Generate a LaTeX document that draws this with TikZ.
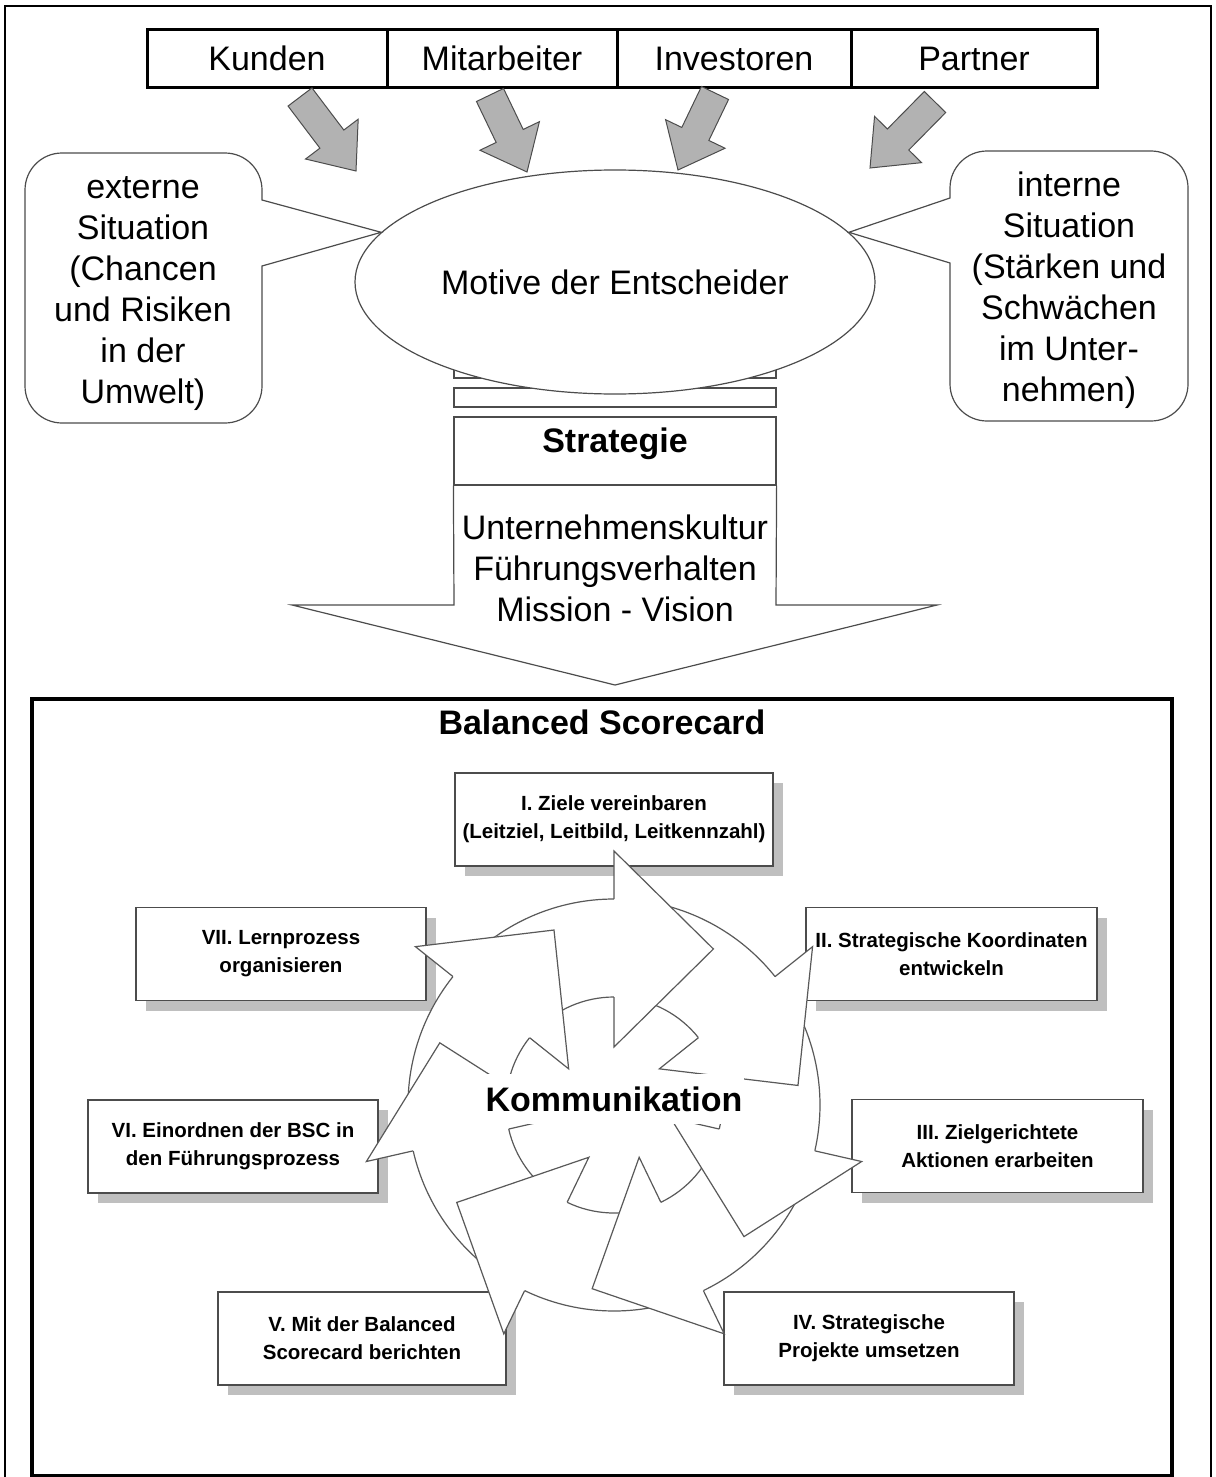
\documentclass[tikz,border=0pt]{standalone}
\usepackage{fontspec}
\setmainfont{Liberation Sans}
\usetikzlibrary{calc,shapes.geometric,shadows}

% block arrow from tail to tip, #1 is the name of its head base
\newcommand\grayblock[3]{%
  \coordinate (#1h) at ($(#3)!40pt!(#2)$);
  \filldraw[garrow] ($(#2)!15pt!90:(#3)$) -- ($(#1h)!15pt!-90:(#2)$) -- ($(#1h)!33pt!-90:(#2)$) -- (#3)
    -- ($(#1h)!33pt!90:(#2)$) -- ($(#1h)!15pt!90:(#2)$) -- ($(#2)!15pt!-90:(#3)$) -- cycle;
}

\begin{document}
\begin{tikzpicture}[x=1pt,y=1pt,
    topbox/.style={draw, line width=3pt, minimum height=58pt, inner sep=0pt, text height=30pt, text depth=6pt,
        font=\fontsize{34}{41}\selectfont},
    garrow/.style={fill=gray!60, draw=black!70, line width=1pt},
    thinline/.style={draw=black!70, line width=1.2pt},
    bigtext/.style={font=\fontsize{34}{41}\selectfont, align=center},
    bscbox/.style={draw=black!70, line width=1.5pt, fill=white, minimum height=93pt, inner xsep=4pt, align=center,
        font=\bfseries\fontsize{20.5}{28}\selectfont,
        drop shadow={shadow xshift=10pt, shadow yshift=-10pt, fill=gray!50, opacity=1}},
    cyclearrow/.style={draw=black!65, line width=1.2pt}
  ]
  \useasboundingbox (0,0) rectangle (1215,-1477);
  \draw[line width=1.5pt] (5,-1482) -- (5,-6) -- (1211,-6) -- (1211,-1482);

  % stakeholders
  \node[topbox, minimum width=240pt] (kunden) at (267,-59) {Kunden};
  \node[topbox, minimum width=230pt] (mitarbeiter) at (502,-59) {Mitarbeiter};
  \node[topbox, minimum width=234pt] (investoren) at (734,-59) {Investoren};
  \node[topbox, minimum width=246pt] (partner) at (974,-59) {Partner};

  \coordinate (ga1t) at (300,-97);  \coordinate (ga1e) at (356,-171);
  \coordinate (ga2t) at (490,-95);  \coordinate (ga2e) at (527,-172);
  \coordinate (ga3t) at (715,-93);  \coordinate (ga3e) at (678,-170);
  \coordinate (ga4t) at (935,-102); \coordinate (ga4e) at (870,-168);
  \grayblock{ga1}{ga1t}{ga1e}
  \grayblock{ga2}{ga2t}{ga2e}
  \grayblock{ga3}{ga3t}{ga3e}
  \grayblock{ga4}{ga4t}{ga4e}

  % decision makers
  \draw[thinline] (454,-358) rectangle (776,-378);
  \draw[thinline] (454,-388) rectangle (776,-407);
  \node[ellipse, thinline, fill=white, minimum width=520pt, minimum height=224pt, bigtext] (motive) at (615,-282) {Motive der Entscheider};

  \draw[thinline] (143,-153) [rounded corners=37pt] -- (262,-153) [sharp corners] -- (262,-200) -- (motive.168) -- (262,-266)
    [rounded corners=37pt] -- (262,-423) -- (25,-423) -- (25,-153) -- cycle;
  \draw[thinline] (1069,-151) [rounded corners=37pt] -- (950,-151) [sharp corners] -- (950,-198) -- (motive.12) -- (950,-263)
    [rounded corners=37pt] -- (950,-421) -- (1188,-421) -- (1188,-151) -- cycle;
  \node[bigtext] (extern) at (143,-294) {externe\\Situation\\(Chancen\\und Risiken\\in der\\Umwelt)};
  \node[bigtext] (intern) at (1069,-290) {interne\\Situation\\(Stärken und\\Schwächen\\im Unter-\\nehmen)};

  % strategy
  \node[thinline, minimum width=322pt, minimum height=68pt] (strategie) at (615,-451) {};
  \node[bigtext, font=\bfseries\fontsize{34}{41}\selectfont] (strattitel) at (615,-444) {Strategie};
  \draw[thinline] (strategie.south west) -- (454,-605) -- (292,-605) -- (615,-685) -- (937,-605) -- (776,-605) -- (strategie.south east);
  \node[bigtext] (kultur) at (615,-568) {Unternehmenskultur\\Führungsverhalten\\Mission - Vision};

  % balanced scorecard
  \draw[line width=4.5pt] (32,-699) rectangle (1172,-1476);
  \node[font=\bfseries\fontsize{34}{41}\selectfont] (bsctitel) at (602,-722) {Balanced Scorecard};

  \node[bscbox, minimum width=318pt] (ziele) at (614,-819.5) {I. Ziele vereinbaren\\(Leitziel, Leitbild, Leitkennzahl)};
  \node[bscbox, minimum width=291pt] (koord) at (951.5,-954) {II. Strategische Koordinaten\\entwickeln};
  \node[bscbox, minimum width=291pt] (aktionen) at (997.5,-1146) {III. Zielgerichtete\\Aktionen erarbeiten};
  \node[bscbox, minimum width=290pt] (projekte) at (869,-1338.5) {IV. Strategische\\Projekte umsetzen};
  \node[bscbox, minimum width=288pt] (bericht) at (362,-1338.5) {V. Mit der Balanced\\Scorecard berichten};
  \node[bscbox, minimum width=290pt] (einordnen) at (233,-1146.5) {VI. Einordnen der BSC in\\den Führungsprozess};
  \node[bscbox, minimum width=290pt] (lernen) at (281,-954) {VII. Lernprozess\\organisieren};

  % circle of arrows: bands first, heads on top
  \coordinate (kc) at (614,-1105);
  \foreach \k in {0,...,6}{
    \pgfmathsetmacro\abase{90-360/7*\k}
    \pgfmathsetmacro\atail{\abase+360/7-5}
    \fill[white] ($(kc)+(\atail:108)$) -- ($(kc)+(\atail:206)$) arc[start angle=\atail, end angle=\abase, radius=206]
      -- ($(kc)+(\abase:108)$) arc[start angle=\abase, end angle=\atail, radius=108] -- cycle;
    \draw[cyclearrow] ($(kc)+(\atail:108)$) -- ($(kc)+(\atail:206)$) arc[start angle=\atail, end angle=\abase, radius=206];
    \draw[cyclearrow] ($(kc)+(\abase:108)$) arc[start angle=\abase, end angle=\atail, radius=108];
  }
  \foreach \k in {0,...,6}{
    \pgfmathsetmacro\abase{90-360/7*\k}
    \pgfmathsetmacro\atip{\abase-32.5}
    \fill[white] ($(kc)+(\abase:254)$) -- ($(kc)+(\atip:185)$) -- ($(kc)+(\abase:58)$) -- cycle;
    \draw[cyclearrow] ($(kc)+(\abase:206)$) -- ($(kc)+(\abase:254)$) -- ($(kc)+(\atip:185)$) -- ($(kc)+(\abase:58)$) -- ($(kc)+(\abase:108)$);
  }
  \node[fill=white, inner xsep=2pt, inner ysep=13pt, font=\bfseries\fontsize{34}{41}\selectfont] (kommunikation) at (614,-1099) {Kommunikation};
\end{tikzpicture}
\end{document}
